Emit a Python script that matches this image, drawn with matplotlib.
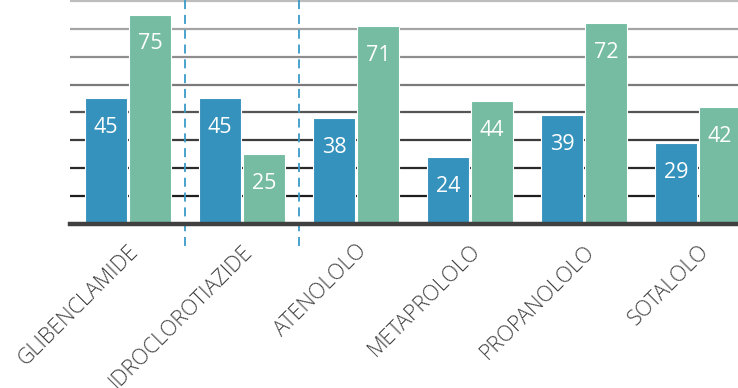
import matplotlib.pyplot as plt
import numpy as np

# Drug categories and the two series of values
farmaci = ['GLIBENCLAMIDE', 'IDROCLOROTIAZIDE', 'ATENOLOLO',
           'METAPROLOLO', 'PROPANOLOLO', 'SOTALOLO']
serie_a = [45, 45, 38, 24, 39, 29]
serie_b = [75, 25, 71, 44, 72, 42]

blu = '#3592bc'
verde = '#75bca2'

plt.rcParams['font.family'] = ['Open Sans', 'DejaVu Sans']

fig = plt.figure(figsize=(7.38, 3.88), dpi=100)
ax = fig.add_axes([70 / 738, 164 / 388, 668 / 738, 224 / 388])

x = np.arange(len(farmaci))
w = 0.365
gap = 0.01

bars_a = ax.bar(x - w / 2 - gap, serie_a, w, color=blu, edgecolor='white',
                linewidth=0.8, zorder=3)
bars_b = ax.bar(x + w / 2 + gap, serie_b, w, color=verde, edgecolor='white',
                linewidth=0.8, zorder=3)

# value labels inside the top of each bar
for bars in (bars_a, bars_b):
    for b in bars:
        h = b.get_height()
        ax.annotate(f'{h:.0f}', (b.get_x() + b.get_width() / 2, h),
                    xytext=(0, -21), textcoords='offset points',
                    ha='center', va='center', color='white', fontsize=15.5,
                    zorder=4)

# horizontal grid, fading from dark at the bottom to light at the top
grid_vals = np.arange(10, 90, 10)
grid_cols = ['#1e1e1e', '#2a2a2a', '#3c3c3c', '#555555',
             '#7a7a7a', '#8e8e8e', '#a4a4a4', '#bdbdbd']
for v, c in zip(grid_vals, grid_cols):
    ax.axhline(v, color=c, linewidth=1.6, zorder=1)

# dashed separators between groups
for xs in (0.5, 1.5):
    ax.plot([xs, xs], [-8, 81], color='#3a9bc8', linestyle=(0, (5, 3.2)),
            linewidth=1.3, clip_on=False, zorder=2)

ax.axhline(0, color='#404040', linewidth=3.2, zorder=5, clip_on=False)

ax.set_xlim(-0.51, 5.35)
ax.set_ylim(0, 80.3)
ax.set_xticks(x)
ax.set_xticklabels(farmaci, rotation=45, ha='right', rotation_mode='anchor',
                   fontsize=15.5, color='#404040', fontweight='light')
ax.tick_params(axis='x', length=0, pad=12)
ax.set_yticks([])
for s in ax.spines.values():
    s.set_visible(False)

fig.savefig('out.png', dpi=100)
